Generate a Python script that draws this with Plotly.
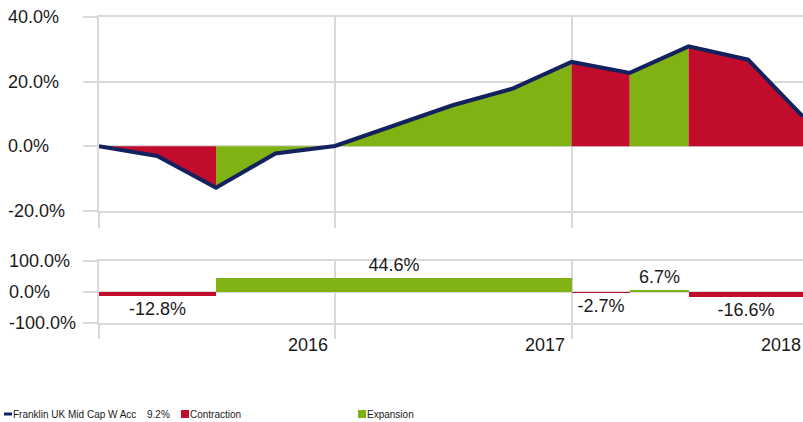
import plotly.graph_objects as go
from datetime import datetime

# ---------------- data ----------------
dates = ["2015-01-01", "2015-04-01", "2015-07-01", "2015-10-01", "2016-01-01",
         "2016-04-01", "2016-07-01", "2016-10-01", "2017-01-01", "2017-04-01",
         "2017-07-01", "2017-10-01", "2017-12-25"]
values = [0.0, -3.0, -12.8, -2.2, 0.1, 6.3, 12.7, 17.8, 26.1, 22.7, 30.9, 26.8, 9.2]

phase_start = [0, 2, 8, 9, 10]
phase_end = [2, 8, 9, 10, 12]
phase_type = ["Contraction", "Expansion", "Contraction", "Expansion", "Contraction"]
phase_return = [-12.8, 44.6, -2.7, 6.7, -16.6]
phase_labels = ["-12.8%", "44.6%", "-2.7%", "6.7%", "-16.6%"]

top_ticks = [-20, 0, 20, 40]
top_tick_labels = ["-20.0%", "0.0%", "20.0%", "40.0%"]
bottom_ticks = [-100, 0, 100]
bottom_tick_labels = ["-100.0%", "0.0%", "100.0%"]
year_ticks = ["2015-01-01", "2016-01-01", "2017-01-01", "2018-01-01"]
year_labels = ["", "2016", "2017", "2018"]

series_name = "Franklin UK Mid Cap W Acc"
last_value_label = "9.2%"

# ---------------- style ----------------
W, H = 803, 422
L, R, T, B = 99, 0, 17, 99
NAVY = "#13215E"
RED = "#C10C2B"
GREEN = "#80B214"
GRID = "#D9D9D9"
TXT = "#1A1A1A"
FONT = "Liberation Sans, Arial, sans-serif"
colors = {"Contraction": RED, "Expansion": GREEN}

pw = W - L - R
ph = H - T - B

x_range = [dates[0], dates[-1]]
top_range = [top_ticks[0], top_ticks[-1]]
bot_range = [bottom_ticks[0], bottom_ticks[-1]]


def px_x(p):
    return (p - L) / pw


def px_y(q):
    return (H - B - q) / ph


def date_to_paper(d):
    t0 = datetime.fromisoformat(x_range[0]).timestamp()
    t1 = datetime.fromisoformat(x_range[1]).timestamp()
    return (datetime.fromisoformat(d).timestamp() - t0) / (t1 - t0)


top_domain = [px_y(211), px_y(17)]
bot_domain = [px_y(323), px_y(261)]

fig = go.Figure()

# area fills per phase
for s, e, t in zip(phase_start, phase_end, phase_type):
    fig.add_trace(go.Scatter(
        x=dates[s:e + 1], y=values[s:e + 1], mode="none", fill="tozeroy",
        fillcolor=colors[t], name=t, showlegend=False, hoverinfo="skip",
        xaxis="x", yaxis="y"))

# performance line
fig.add_trace(go.Scatter(
    x=dates, y=values, mode="lines", line=dict(color=NAVY, width=4),
    name=series_name, showlegend=False, cliponaxis=False, xaxis="x", yaxis="y"))


def ms(a, b):
    return (datetime.fromisoformat(b) - datetime.fromisoformat(a)).total_seconds() * 1000


# phase bars
fig.add_trace(go.Bar(
    x=[dates[s] for s in phase_start],
    y=phase_return,
    width=[ms(dates[s], dates[e]) for s, e in zip(phase_start, phase_end)],
    offset=0,
    marker=dict(color=[colors[t] for t in phase_type], line=dict(width=0)),
    text=phase_labels, textposition="outside", constraintext="none",
    cliponaxis=False,
    textfont=dict(family=FONT, size=18, color=TXT),
    showlegend=False, xaxis="x2", yaxis="y2"))

xcommon = dict(type="date", range=x_range, tickvals=year_ticks,
               showticklabels=False, showgrid=True, gridcolor=GRID, gridwidth=2,
               ticks="outside", tickcolor=GRID, tickwidth=2,
               showline=True, mirror=True, linecolor=GRID, linewidth=2,
               zeroline=False, layer="below traces")
ycommon = dict(showticklabels=False, gridcolor=GRID, gridwidth=2, zeroline=False,
               ticks="outside", ticklen=14, tickcolor=GRID, tickwidth=2,
               showline=True, mirror=False, linecolor=GRID, linewidth=2,
               layer="below traces")

fig.update_layout(
    width=W, height=H,
    margin=dict(l=L, r=R, t=T, b=B),
    paper_bgcolor="white", plot_bgcolor="white",
    bargap=0,
    xaxis=dict(domain=[0, 1], anchor="y", ticklen=15, **xcommon),
    yaxis=dict(domain=top_domain, range=top_range, tickvals=top_ticks, **ycommon),
    xaxis2=dict(domain=[0, 1], anchor="y2", ticklen=14, **xcommon),
    yaxis2=dict(domain=bot_domain, range=bot_range, tickvals=bottom_ticks, **ycommon),
    showlegend=False,
)

ann = []
# y tick labels, left aligned
for v, lab in zip(top_ticks, top_tick_labels):
    ann.append(dict(xref="paper", x=0, xshift=-(L - 6), xanchor="left",
                    yref="y", y=v, yanchor="middle", text=lab, showarrow=False,
                    font=dict(family=FONT, size=18, color=TXT)))
for v, lab in zip(bottom_ticks, bottom_tick_labels):
    ann.append(dict(xref="paper", x=0, xshift=-(L - 7), xanchor="left",
                    yref="y2", y=v, yanchor="middle", text=lab, showarrow=False,
                    font=dict(family=FONT, size=18, color=TXT)))
# year labels, right-aligned to year gridlines
for d, lab in zip(year_ticks, year_labels):
    if lab:
        ann.append(dict(xref="paper", x=date_to_paper(d), xanchor="right", xshift=-5,
                        yref="paper", y=px_y(345), yanchor="middle", text=lab,
                        showarrow=False, font=dict(family=FONT, size=18, color=TXT)))

# legend (manual)
leg_y = px_y(414)
LEGFONT = dict(family=FONT, size=10, color=TXT)
for xpx, txt in [(13, series_name), (147, last_value_label),
                 (190, "Contraction"), (367, "Expansion")]:
    ann.append(dict(xref="paper", x=px_x(xpx), xanchor="left", yref="paper", y=leg_y,
                    yanchor="middle", text=txt, showarrow=False, font=LEGFONT,
                    xshift=-2))

shapes = [
    dict(type="rect", xref="paper", yref="paper", x0=px_x(4), x1=px_x(12),
         y0=px_y(415.5), y1=px_y(412.5), fillcolor=NAVY, line=dict(width=0)),
    dict(type="rect", xref="paper", yref="paper", x0=px_x(181), x1=px_x(189),
         y0=px_y(418), y1=px_y(410), fillcolor=RED, line=dict(width=0)),
    dict(type="rect", xref="paper", yref="paper", x0=px_x(358), x1=px_x(366),
         y0=px_y(418), y1=px_y(410), fillcolor=GREEN, line=dict(width=0)),
]

fig.update_layout(annotations=ann, shapes=shapes)
fig.write_html("out.html")
